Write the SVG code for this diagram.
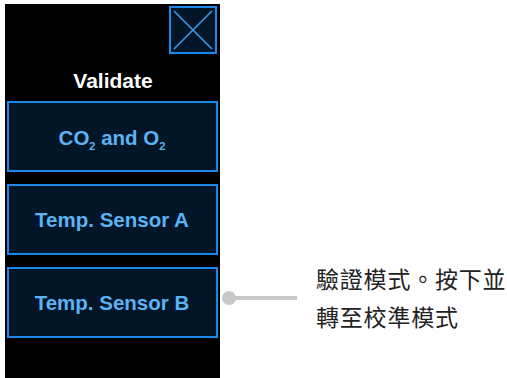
<svg xmlns="http://www.w3.org/2000/svg" width="507" height="378" viewBox="0 0 507 378">
<style>
.btn{fill:#021628;stroke:#1a88ea;stroke-width:2}
.lbl{font-family:"Liberation Sans",Arial,sans-serif;font-weight:bold;font-size:20.5px;fill:#5cb2f2;text-anchor:middle}
.note{font-family:"Noto Sans CJK TC","Noto Sans CJK SC",sans-serif;font-size:23px;fill:#222;letter-spacing:0.8px}
</style>
<rect x="0" y="0" width="507" height="378" fill="#ffffff"/>
<rect x="5" y="4" width="215" height="374" fill="#000000"/>
<g id="close">
<rect class="btn" x="170" y="7" width="46" height="46"/>
<path d="M174 11 L212 49 M212 11 L174 49" stroke="#3a9ae8" stroke-width="1.6" fill="none"/>
</g>
<g id="title">
<text x="113" y="88" font-family="Liberation Sans,Arial,sans-serif" font-weight="bold" font-size="21" fill="#ffffff" text-anchor="middle">Validate</text>
</g>
<g id="btn-co2">
<rect class="btn" x="8" y="102" width="209" height="69"/>
<text class="lbl" x="112" y="145">CO<tspan font-size="11" dy="5">2</tspan><tspan dy="-5"> and O</tspan><tspan font-size="11" dy="5">2</tspan></text>
</g>
<g id="btn-a">
<rect class="btn" x="8" y="185" width="209" height="69"/>
<text class="lbl" x="112" y="227">Temp. Sensor A</text>
</g>
<g id="btn-b">
<rect class="btn" x="8" y="268" width="209" height="69"/>
<text class="lbl" x="112" y="310">Temp. Sensor B</text>
</g>
<g id="connectors">
<line x1="229" y1="298" x2="297" y2="298" stroke="#c8c8c8" stroke-width="4"/>
<circle cx="229" cy="298" r="7" fill="#c8c8c8"/>
</g>
<g id="callout">
<text class="note" x="316" y="288">驗證模式。按下並</text>
<text class="note" x="316" y="326">轉至校準模式</text>
</g>
</svg>
